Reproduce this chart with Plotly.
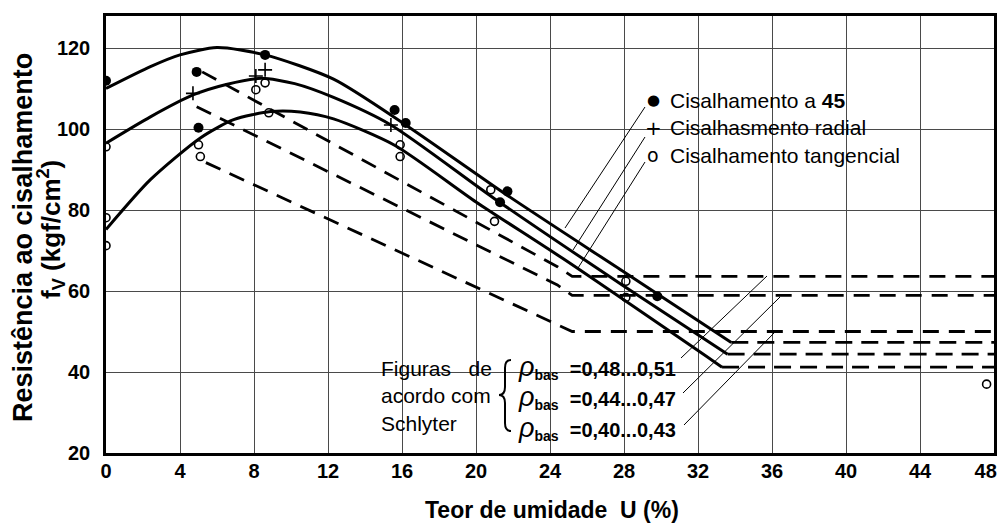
import plotly.graph_objects as go

FONT = "Liberation Sans, Arial, sans-serif"

# ---------------- data ----------------
# x = moisture content U (%), y = shear strength fv (kgf/cm2)
# solid curves (three density classes)
s1_x = [0, 2.4, 4.0, 6.0, 8.6, 12.3, 16.2, 21.7, 27.9, 33.8]
s1_y = [110.0, 115.4, 118.3, 120.1, 118.3, 112.3, 101.0, 83.6, 65.0, 47.3]
s2_x = [0, 2.4, 4.7, 6.5, 8.4, 10.2, 12.3, 15.4, 21.0, 27.9, 33.6]
s2_y = [96.5, 103.0, 108.4, 111.0, 112.5, 111.2, 107.8, 101.0, 82.8, 61.5, 44.4]
s3_x = [0, 2.4, 5.1, 6.9, 8.9, 10.5, 12.3, 15.6, 20.0, 24.7, 33.3]
s3_y = [75.2, 87.5, 97.8, 102.3, 104.3, 104.2, 102.5, 96.0, 82.0, 68.0, 41.2]
# plateau of the solid curves above fibre saturation
plateau_x_end = 48

# dashed curves (Schlyter)
d1_x = [5.2, 24.4, 25.2, 48]
d1_y = [114.1, 66.0, 63.6, 63.6]
d2_x = [4.9, 24.4, 25.2, 48]
d2_y = [105.5, 61.5, 58.9, 58.9]
d3_x = [5.4, 24.4, 25.2, 48]
d3_y = [91.7, 51.8, 50.0, 50.0]

# measured points
p45_x = [0, 4.9, 5.0, 8.6, 15.6, 16.2, 21.3, 21.7, 29.8]
p45_y = [111.9, 114.1, 100.3, 118.3, 104.7, 101.5, 81.9, 84.6, 58.7]
prad_x = [4.7, 8.1, 8.6, 15.4]
prad_y = [108.8, 113.1, 114.6, 101.0]
ptan_x = [0, 0, 0, 5.0, 5.1, 8.1, 8.6, 8.8, 15.9, 15.9, 20.8, 21.0, 28.1, 28.1, 47.6]
ptan_y = [95.6, 78.1, 71.2, 96.1, 93.2, 109.7, 111.4, 104.0, 96.1, 93.2, 85.0, 77.2, 62.4, 58.4, 37.0]

legend_labels = ["Cisalhamento a <b>45</b>", "Cisalhasmento radial", "Cisalhamento tangencial"]
rho_labels = ["=0,48...0,51", "=0,44...0,47", "=0,40...0,43"]
x_ticks = list(range(0, 49, 4))
y_ticks = list(range(20, 121, 20))

# ---------------- layout geometry ----------------
W, H = 998, 523
L, R, T, B = 106, 4, 16, 70
X0, X1 = 0, 48
Y0, Y1 = 20, 127.9
PW, PH = W - L - R, H - T - B


def pxx(px):
    return (px - L) / PW


def pxy(py):
    return (H - B - py) / PH


fig = go.Figure()

# solid curves + dashed plateau
for xs, ys in [(s1_x, s1_y), (s2_x, s2_y), (s3_x, s3_y)]:
    fig.add_trace(go.Scatter(x=xs, y=ys, mode="lines", hoverinfo="skip",
                             line=dict(color="black", width=3, shape="spline", smoothing=0.7)))
    fig.add_trace(go.Scatter(x=[xs[-1], plateau_x_end], y=[ys[-1], ys[-1]], mode="lines",
                             hoverinfo="skip", line=dict(color="black", width=2.8, dash="17px,9px")))

for xs, ys in [(d1_x, d1_y), (d2_x, d2_y), (d3_x, d3_y)]:
    fig.add_trace(go.Scatter(x=xs, y=ys, mode="lines", hoverinfo="skip",
                             line=dict(color="black", width=2.8, dash="16px,10px")))

fig.add_trace(go.Scatter(x=p45_x, y=p45_y, mode="markers",
                         marker=dict(symbol="circle", size=10, color="black")))
fig.add_trace(go.Scatter(x=prad_x, y=prad_y, mode="markers",
                         marker=dict(symbol="cross-thin", size=10, line=dict(color="black", width=1.6))))
fig.add_trace(go.Scatter(x=ptan_x, y=ptan_y, mode="markers",
                         marker=dict(symbol="circle-open", size=8, color="black", line=dict(width=1.6))))

shapes = []
# white boxes behind the text blocks (hide grid)
for (xa, ya, xb, yb) in [(637, 72, 907, 197), (348, 345, 692, 445)]:
    shapes.append(dict(type="rect", xref="paper", yref="paper", x0=pxx(xa), x1=pxx(xb),
                       y0=pxy(yb), y1=pxy(ya), fillcolor="white", line=dict(width=0), layer="between"))
# leader lines
for (xa, ya, xb, yb) in [(645, 107, 565, 228), (645, 137, 573, 250), (645, 162, 578, 268),
                         (681, 358, 767, 276), (683, 393, 780, 297), (684, 425, 775, 332)]:
    shapes.append(dict(type="line", xref="paper", yref="paper", x0=pxx(xa), y0=pxy(ya),
                       x1=pxx(xb), y1=pxy(yb), line=dict(color="black", width=1)))
# curly brace
pts = [("M", 511, 360), ("Q", 505, 360, 505, 368), ("L", 505, 387), ("Q", 505, 395, 499, 395),
       ("Q", 505, 395, 505, 403), ("L", 505, 423), ("Q", 505, 431, 511, 431)]
path = ""
for p in pts:
    cmd = p[0]
    coords = p[1:]
    seg = []
    for i in range(0, len(coords), 2):
        seg.append(f"{pxx(coords[i]):.5f},{pxy(coords[i+1]):.5f}")
    path += cmd + " " + " ".join(seg) + " "
shapes.append(dict(type="path", xref="paper", yref="paper", path=path.strip(),
                   line=dict(color="black", width=2)))

ann = []
# legend symbols & texts
for sym, txt, py, fs in zip(["●", "+", "o"], legend_labels, [100, 128, 155], [15, 20, 19]):
    ann.append(dict(xref="paper", yref="paper", x=pxx(653), y=pxy(py), text=sym, showarrow=False,
                    xanchor="center", yanchor="middle", font=dict(family="DejaVu Sans, " + FONT, size=fs, color="black")))
    ann.append(dict(xref="paper", yref="paper", x=pxx(668), y=pxy(py), text=txt, showarrow=False,
                    xanchor="left", yanchor="middle", font=dict(family=FONT, size=21, color="black")))
# Schlyter text
ann.append(dict(xref="paper", yref="paper", x=pxx(379), y=pxy(396), align="left",
                text="Figuras\u00a0\u00a0 de<br>acordo com<br>Schlyter", showarrow=False,
                xanchor="left", yanchor="middle", font=dict(family=FONT, size=21, color="black")))
for txt, py in zip(rho_labels, [367, 397, 428]):
    ann.append(dict(xref="paper", yref="paper", x=pxx(516), y=pxy(py),
                    text='<span style="font-size:27px;font-weight:normal"><i>ρ</i></span><sub>bas</sub>\u00a0 ' + txt,
                    showarrow=False, xanchor="left", yanchor="middle",
                    font=dict(family=FONT, size=20, color="black", weight="bold")))
# axis titles
ann.append(dict(xref="paper", yref="paper", x=pxx(23), y=pxy(238), text="Resistência ao cisalhamento",
                textangle=-90, showarrow=False, xanchor="center", yanchor="middle",
                font=dict(family=FONT, size=27, color="black", weight="bold")))
ann.append(dict(xref="paper", yref="paper", x=pxx(51), y=pxy(230),
                text="f<sub>V</sub> (kgf/cm<sup>2</sup>)",
                textangle=-90, showarrow=False, xanchor="center", yanchor="middle",
                font=dict(family=FONT, size=26, color="black", weight="bold")))
ann.append(dict(xref="paper", yref="paper", x=pxx(552), y=pxy(510), text="Teor de umidade\u00a0 U (%)",
                showarrow=False, xanchor="center", yanchor="middle",
                font=dict(family=FONT, size=23, color="black", weight="bold")))

x_ticktext = [str(v) for v in x_ticks]
x_ticktext[-1] = x_ticktext[-1] + "\u00a0\u00a0\u00a0"

fig.update_layout(
    width=W, height=H, margin=dict(l=L, r=R, t=T, b=B, pad=0, autoexpand=False),
    paper_bgcolor="white", plot_bgcolor="white", showlegend=False,
    shapes=shapes, annotations=ann,
    xaxis=dict(range=[X0, X1], tickvals=x_ticks, ticktext=x_ticktext, showgrid=True,
               gridcolor="#4a4a4a", gridwidth=1, showline=True, linecolor="black", linewidth=2.5,
               mirror=True, ticks="", zeroline=False, ticklabelstandoff=-2, ticklabeloverflow="allow",
               automargin=False,
               tickfont=dict(family=FONT, size=20, color="black", weight="bold")),
    yaxis=dict(range=[Y0, Y1], tickvals=y_ticks, showgrid=True, automargin=False,
               gridcolor="#4a4a4a", gridwidth=1, showline=True, linecolor="black", linewidth=2.5,
               mirror=True, ticks="", zeroline=False, ticklabelstandoff=9,
               tickfont=dict(family=FONT, size=20, color="black", weight="bold")),
)

fig.write_html("out.html")
